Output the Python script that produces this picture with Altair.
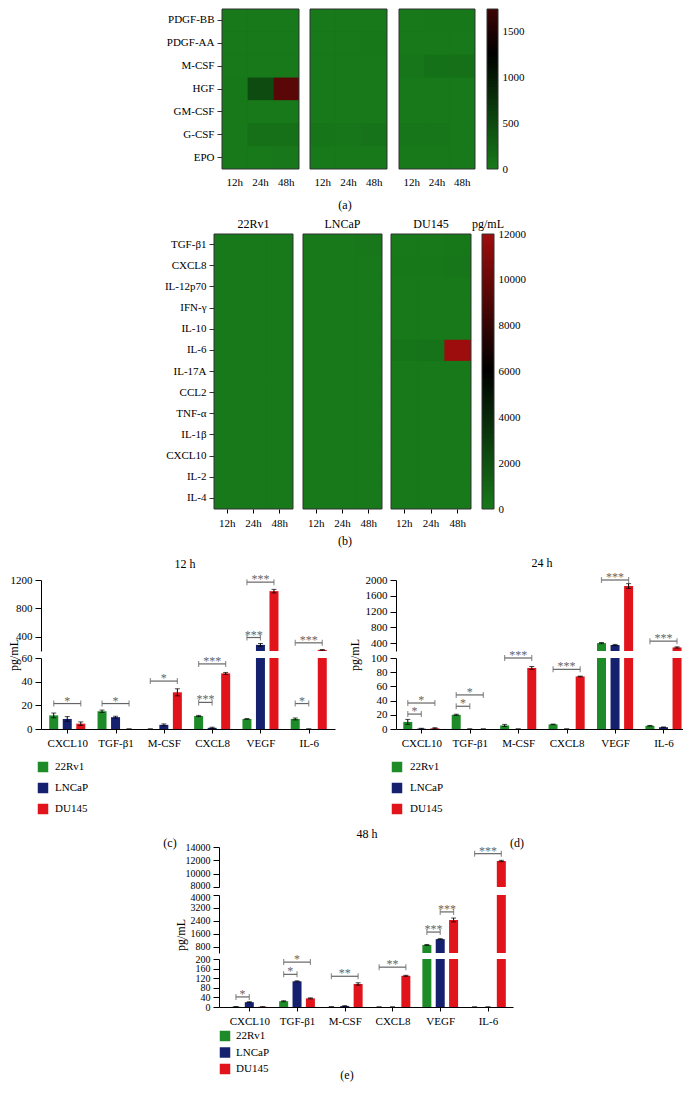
import json
import altair as alt
import numpy as np
import pandas as pd

FONT = "Liberation Serif"
W, H = 675, 1074

# ------------------------------------------------------------------ data
times = ["12h", "24h", "48h"]
cell_lines = ["22Rv1", "LNCaP", "DU145"]
bar_colors = ["#1d8c28", "#15216e", "#e2141b"]
HM_GREEN = "#17791a"

# (a) growth factors heatmap, rows x [12h, 24h, 48h]
growth_factors = ["PDGF-BB", "PDGF-AA", "M-CSF", "HGF", "GM-CSF", "G-CSF", "EPO"]
gf_22Rv1 = [[0, 0, 0], [0, 0, 0], [0, 0, 0], [10, 480, 1950], [0, 0, 0], [5, 90, 90], [0, 0, 20]]
gf_LNCaP = [[0, 0, 0], [0, 0, 10], [0, 0, 0], [0, 0, 0], [0, 0, 0], [40, 30, 60], [0, 0, 0]]
gf_DU145 = [[0, 15, 15], [0, 0, 0], [31, 86, 95], [0, 0, 0], [0, 0, 0], [30, 30, 0], [0, 0, 0]]

# (b) cytokines heatmap
cytokines = ["TGF-β1", "CXCL8", "IL-12p70", "IFN-γ", "IL-10", "IL-6", "IL-17A",
             "CCL2", "TNF-α", "IL-1β", "CXCL10", "IL-2", "IL-4"]
cy_22Rv1 = [[15, 20, 24], [11, 6.5, 0], [0, 0, 0], [0, 0, 0], [0, 0, 0], [8.5, 4.5, 0], [0, 0, 0],
            [0, 0, 0], [0, 0, 0], [0, 0, 0], [11.5, 10, 1], [0, 0, 0], [0, 0, 0]]
cy_LNCaP = [[10, 0, 107], [1, 0, 0], [0, 0, 0], [0, 0, 0], [0, 0, 0], [0, 2.5, 0], [0, 0, 0],
            [0, 0, 0], [0, 0, 0], [0, 0, 0], [8.5, 0.5, 20], [0, 0, 0], [0, 0, 0]]
cy_DU145 = [[0, 0, 36], [47, 74, 130], [0, 0, 0], [0, 0, 0], [0, 0, 0], [215, 290, 11900], [0, 0, 0],
            [0, 0, 0], [0, 0, 0], [0, 0, 0], [4.5, 1, 1], [0, 0, 0], [0, 0, 0]]

cbar_a_ticks = [0, 500, 1000, 1500]
cbar_b_ticks = [0, 2000, 4000, 6000, 8000, 10000, 12000]

# (c)(d)(e) bar charts
bar_categories = ["CXCL10", "TGF-β1", "M-CSF", "CXCL8", "VEGF", "IL-6"]

h12_22Rv1 = [11.5, 15, 0, 11, 8.5, 8.5]
h12_LNCaP = [8.5, 10, 3.5, 1, 286, 0]
h12_DU145 = [4.5, 0, 31, 47, 1043, 215]
h12_err_22Rv1 = [2, 1, 0, 0.5, 0.3, 0.8]
h12_err_LNCaP = [2, 0.8, 0.8, 0.5, 20, 0]
h12_err_DU145 = [1.5, 0, 3, 0.8, 25, 5]

h24_22Rv1 = [10, 20, 5, 6.5, 400, 4.5]
h24_LNCaP = [0.5, 0, 0, 0, 352, 2.5]
h24_DU145 = [1, 0, 86, 74, 1848, 290]
h24_err_22Rv1 = [3.5, 0.8, 1.5, 0.4, 15, 0.5]
h24_err_LNCaP = [0.5, 0, 0, 0, 15, 0.4]
h24_err_DU145 = [0.8, 0, 2, 0.5, 60, 15]

h48_22Rv1 = [1, 24, 0.5, 0, 900, 0]
h48_LNCaP = [20, 107, 4, 0, 1260, 0]
h48_DU145 = [1, 36, 96, 130, 2450, 11900]
h48_err_22Rv1 = [0.5, 2, 0.3, 0, 30, 0]
h48_err_LNCaP = [2, 2, 1.5, 0, 30, 0]
h48_err_DU145 = [0.5, 2, 5, 2, 120, 100]

# significance brackets: (category, from, to, height, label, segment index)
br12 = [("CXCL10", "22Rv1", "DU145", 21.5, "*", 1),
        ("TGF-β1", "22Rv1", "DU145", 21.5, "*", 1),
        ("M-CSF", "22Rv1", "DU145", 40.5, "*", 1),
        ("CXCL8", "22Rv1", "LNCaP", 22.5, "***", 1),
        ("CXCL8", "22Rv1", "DU145", 55, "***", 1),
        ("VEGF", "22Rv1", "LNCaP", 390, "***", 0),
        ("VEGF", "22Rv1", "DU145", 1170, "***", 0),
        ("IL-6", "22Rv1", "LNCaP", 21.5, "*", 1),
        ("IL-6", "22Rv1", "DU145", 315, "***", 0)]
br24 = [("CXCL10", "22Rv1", "LNCaP", 21, "*", 1),
        ("CXCL10", "22Rv1", "DU145", 36.6, "*", 1),
        ("TGF-β1", "22Rv1", "LNCaP", 32, "*", 1),
        ("TGF-β1", "22Rv1", "DU145", 48, "*", 1),
        ("M-CSF", "22Rv1", "DU145", 101, "***", 1),
        ("CXCL8", "22Rv1", "DU145", 84, "***", 1),
        ("VEGF", "22Rv1", "DU145", 2000, "***", 0),
        ("IL-6", "22Rv1", "DU145", 450, "***", 0)]
br48 = [("CXCL10", "22Rv1", "LNCaP", 42, "*", 2),
        ("TGF-β1", "22Rv1", "LNCaP", 136, "*", 2),
        ("TGF-β1", "22Rv1", "DU145", 187, "*", 2),
        ("M-CSF", "22Rv1", "DU145", 128, "**", 2),
        ("CXCL8", "22Rv1", "DU145", 166, "**", 2),
        ("VEGF", "22Rv1", "LNCaP", 1700, "***", 1),
        ("VEGF", "LNCaP", "DU145", 2950, "***", 1),
        ("IL-6", "22Rv1", "DU145", 13000, "***", 0)]

OFF = {"22Rv1": -0.28, "LNCaP": 0.0, "DU145": 0.28}

# ------------------------------------------------------------------ helpers
bar_cscale = alt.Scale(domain=cell_lines, range=bar_colors)
cs_a = alt.Scale(domain=[0, 1250, 2500], range=[HM_GREEN, "#000000", "#a00d0d"], interpolate="rgb")
cs_b = alt.Scale(domain=[0, 6000, 12000], range=[HM_GREEN, "#000000", "#a00d0d"], interpolate="rgb")
lab_expr = json.dumps(bar_categories, ensure_ascii=False) + "[datum.value]"


def txt(s, x, y, size=12, angle=None, color="black", align="center"):
    kw = dict(fontSize=size, font=FONT, color=color, align=align, baseline="middle")
    if angle is not None:
        kw["angle"] = angle
    return alt.Chart(pd.DataFrame({"t": [s]})).mark_text(**kw).encode(
        x=alt.value(x), y=alt.value(y), text="t:N")


def frame(x0, x1, y0, y1, fill=None):
    kw = dict(stroke="#333", strokeWidth=1)
    if fill:
        kw.update(fill=fill, strokeOpacity=0)
    else:
        kw.update(fillOpacity=0)
    return alt.Chart(pd.DataFrame({"t": [0]})).mark_rect(**kw).encode(
        x=alt.value(x0), x2=alt.value(x1), y=alt.value(y0), y2=alt.value(y1))


def heat_frame(factors, matrix):
    rows = []
    for f, vals in zip(factors, matrix):
        for t, v in zip(times, vals):
            rows.append(dict(factor=f, time=t, val=v))
    return pd.DataFrame(rows)


def heat_layer(df, factors, x0, x1, y0, y1, cscale, show_y, xticks):
    xs = alt.Scale(domain=times, range=[x0, x1], paddingInner=0, paddingOuter=0)
    ys = alt.Scale(domain=factors, range=[y0, y1], paddingInner=0, paddingOuter=0)
    xax = alt.Axis(orient="bottom", offset=y1 - H, title=None, labelAngle=0, domain=False,
                   ticks=xticks, tickSize=4, labelPadding=4 if xticks else 7, labelFontSize=11)
    yax = alt.Axis(orient="left", offset=-x0, title=None, domain=False, ticks=True, tickSize=5,
                   tickColor="#333", labelPadding=3, labelFontSize=11) if show_y else None
    cells = alt.Chart(df).mark_rect().encode(
        x=alt.X("time:N", scale=xs, axis=xax),
        y=alt.Y("factor:N", scale=ys, axis=yax),
        color=alt.Color("val:Q", scale=cscale, legend=None),
    )
    return alt.layer(frame(x0, x1, y0, y1, HM_GREEN), cells, frame(x0, x1, y0, y1))


def cbar_layer(top, n, x0, x1, yb, yt, cscale, ticks):
    vals = np.linspace(0, top, n)
    df = pd.DataFrame({"v": vals[:-1]})
    ys = alt.Scale(domain=[0, top], range=[yb, yt], nice=False, zero=False)
    bar = alt.Chart(df).mark_rect().encode(
        x=alt.value(x0), x2=alt.value(x1),
        y=alt.Y("v:Q", scale=ys,
                axis=alt.Axis(orient="right", offset=x1 - W, values=ticks, ticks=False, domain=False,
                              title=None, labelPadding=4, labelFontSize=11, grid=False, format="d",
                              labelOverlap=False, labelFlush=False)),
        y2=alt.datum(top),
        color=alt.Color("v:Q", scale=cscale, legend=None),
        order=alt.Order("v:Q"),
    )
    return alt.layer(bar, frame(x0, x1, yt, yb))


def bars_frame(vals, errs):
    rows = []
    for s, vl, el in zip(cell_lines, vals, errs):
        for i, (v, e) in enumerate(zip(vl, el)):
            rows.append(dict(series=s, cat=bar_categories[i], pos=i + OFF[s], val=v,
                             lo=max(v - e, 0), hi=v + e))
    return pd.DataFrame(rows)


def br_frame(br):
    rows = []
    for cat, s1, s2, y, lab, seg in br:
        i = bar_categories.index(cat)
        x1, x2 = i + OFF[s1], i + OFF[s2]
        rows.append(dict(x1=x1, x2=x2, xm=(x1 + x2) / 2, y=y, lab=lab, seg=seg))
    return pd.DataFrame(rows)


def seg_layer(bdf, brdf, seg_idx, lo, hi, xr, yr, xdom, yticks, bottom, lab_size=11, nudge=None):
    xs = alt.Scale(domain=xdom, range=xr, nice=False, zero=False)
    ys = alt.Scale(domain=[lo, hi], range=yr, nice=False, zero=False, clamp=True)
    xax = alt.Axis(orient="bottom", offset=yr[0] - H, values=list(range(6)), labelExpr=lab_expr,
                   title=None, grid=False, tickSize=4, labelPadding=4, labelFontSize=11,
                   labelFlush=False, labelOverlap=False) if bottom else None
    yargs = dict(orient="left", offset=-xr[0], values=yticks, grid=False, tickSize=6,
                 labelPadding=3, labelFontSize=lab_size, format="d", title=None,
                 labelFlush=False, labelOverlap=False)
    if nudge:
        yargs["labelOffset"] = {"condition": {"test": f"datum.value == {nudge[0]}", "value": nudge[1]},
                                "value": 0}
    yax = alt.Axis(**yargs)
    X = lambda f: alt.X(f, type="quantitative", scale=xs, axis=xax)
    Y = lambda f: alt.Y(f, type="quantitative", scale=ys, axis=yax)
    inseg = f"datum.val >= {lo} && datum.val <= {hi}"

    bars = alt.Chart(bdf).transform_filter(f"datum.val > {lo}").mark_bar(size=9).encode(
        x=X("pos"), y=Y("val"), y2=alt.datum(lo),
        color=alt.Color("series:N", scale=bar_cscale, legend=None))
    eb = alt.Chart(bdf).transform_filter(inseg)
    err = eb.mark_rule(color="black", strokeWidth=1).encode(x=X("pos"), y=Y("lo"), y2="hi:Q")
    cap_hi = eb.mark_tick(orient="horizontal", size=5, thickness=1, color="black").encode(
        x=X("pos"), y=Y("hi"))
    cap_lo = eb.mark_tick(orient="horizontal", size=5, thickness=1, color="black").encode(
        x=X("pos"), y=Y("lo"))
    brb = alt.Chart(brdf).transform_filter(alt.datum.seg == seg_idx)
    br_line = brb.mark_rule(color="#666", strokeWidth=1.2).encode(x=X("x1"), x2="x2:Q", y=Y("y"))
    br_c1 = brb.mark_tick(orient="vertical", size=6, thickness=1.2, color="#666").encode(
        x=X("x1"), y=Y("y"))
    br_c2 = brb.mark_tick(orient="vertical", size=6, thickness=1.2, color="#666").encode(
        x=X("x2"), y=Y("y"))
    br_t = brb.mark_text(fontSize=12, font=FONT, color="#666", baseline="alphabetic", dy=1).encode(
        x=X("xm"), y=Y("y"), text="lab:N")
    return alt.layer(bars, err, cap_hi, cap_lo, br_line, br_c1, br_c2, br_t)


def legend_layer(sq_x, tx_x, yr):
    ldf = pd.DataFrame({"series": cell_lines})
    ysc = alt.Scale(type="point", domain=cell_lines, range=yr, padding=0)
    sq = alt.Chart(ldf).mark_square(size=110, opacity=1).encode(
        x=alt.value(sq_x), y=alt.Y("series:N", scale=ysc, axis=None),
        color=alt.Color("series:N", scale=bar_cscale, legend=None))
    tx = alt.Chart(ldf).mark_text(align="left", baseline="middle", fontSize=11, font=FONT,
                                  color="black").encode(
        x=alt.value(tx_x), y=alt.Y("series:N", scale=ysc, axis=None), text="series:N")
    return alt.layer(sq, tx)


# ------------------------------------------------------------------ panels
hA = [heat_frame(growth_factors, m) for m in (gf_22Rv1, gf_LNCaP, gf_DU145)]
hB = [heat_frame(cytokines, m) for m in (cy_22Rv1, cy_LNCaP, cy_DU145)]

layers = [
    heat_layer(hA[0], growth_factors, 214, 291, 0, 160, cs_a, True, False),
    heat_layer(hA[1], growth_factors, 302, 379, 0, 160, cs_a, False, False),
    heat_layer(hA[2], growth_factors, 391, 467, 0, 160, cs_a, False, False),
    cbar_layer(1740, 108, 479, 490, 160, 0, cs_a, cbar_a_ticks),
    txt("(a)", 337, 196),

    heat_layer(hB[0], cytokines, 206, 285, 225, 500, cs_b, True, True),
    heat_layer(hB[1], cytokines, 295, 374, 225, 500, cs_b, False, True),
    heat_layer(hB[2], cytokines, 383, 463, 225, 500, cs_b, False, True),
    cbar_layer(12000, 185, 474, 486, 500, 225, cs_b, cbar_b_ticks),
    txt(cell_lines[0], 245.5, 215), txt(cell_lines[1], 334.5, 215), txt(cell_lines[2], 423, 215),
    txt("pg/mL", 480, 215),
    txt("(b)", 337, 532),
]

b12 = bars_frame([h12_22Rv1, h12_LNCaP, h12_DU145], [h12_err_22Rv1, h12_err_LNCaP, h12_err_DU145])
b24 = bars_frame([h24_22Rv1, h24_LNCaP, h24_DU145], [h24_err_22Rv1, h24_err_LNCaP, h24_err_DU145])
b48 = bars_frame([h48_22Rv1, h48_LNCaP, h48_DU145], [h48_err_22Rv1, h48_err_LNCaP, h48_err_DU145])
r12, r24, r48 = br_frame(br12), br_frame(br24), br_frame(br48)

xd_c, xr_c = [-0.44, 5.44], [33, 327]
xd_d, xr_d = [-0.42, 5.30], [388, 675]
xd_e, xr_e = [-0.53, 5.42], [211, 505]

layers += [
    seg_layer(b12, r12, 0, 200, 1200, xr_c, [642, 571], xd_c, [400, 800, 1200], False),
    seg_layer(b12, r12, 1, 0, 60, xr_c, [720, 649], xd_c, [0, 20, 40, 60], True),
    txt("12 h", 177, 555), txt("pg/mL", 6, 646, angle=270),
    legend_layer(35, 47, [758, 800]), txt("(c)", 162, 834),

    seg_layer(b24, r24, 0, 200, 2000, xr_d, [642, 571], xd_d, [400, 800, 1200, 1600, 2000], False),
    seg_layer(b24, r24, 1, 0, 100, xr_d, [720, 649], xd_d, [0, 20, 40, 60, 80, 100], True),
    txt("24 h", 534, 554), txt("pg/mL", 347, 646, angle=270),
    legend_layer(389, 402, [758, 800]), txt("(d)", 509, 834),

    seg_layer(b48, r48, 0, 8000, 14000, xr_e, [878, 838], xd_e, [8000, 10000, 12000, 14000], False,
              lab_size=10, nudge=(8000, -2)),
    seg_layer(b48, r48, 1, 400, 4000, xr_e, [944, 886], xd_e, [800, 1600, 2400, 3200, 4000], False,
              lab_size=10, nudge=(4000, 2)),
    seg_layer(b48, r48, 2, 0, 200, xr_e, [998, 950], xd_e, [0, 40, 80, 120, 160, 200], True,
              lab_size=10),
    txt("48 h", 359, 825), txt("pg/mL", 173, 926, angle=270),
    legend_layer(217, 228, [1027, 1060]), txt("(e)", 339, 1066),
]

chart = alt.layer(*layers).resolve_scale(
    x="independent", y="independent", color="independent"
).properties(width=W, height=H, padding=0).configure_view(strokeWidth=0).configure_axis(
    labelFont=FONT, titleFont=FONT, labelColor="black", titleColor="black",
    domainColor="black", tickColor="black", grid=False, titleFontWeight="normal"
).configure_title(font=FONT, fontWeight="normal", fontSize=12, color="black").configure_text(font=FONT)

chart.save("out.html", embed_options={"renderer": "svg", "actions": False})
